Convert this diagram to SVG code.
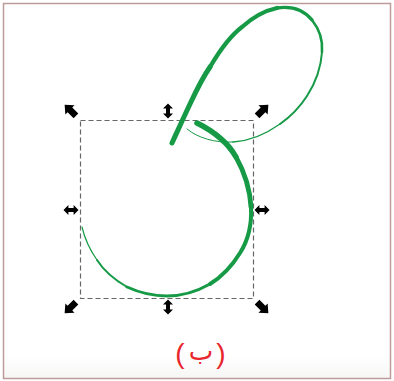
<svg xmlns="http://www.w3.org/2000/svg" width="394" height="381" viewBox="0 0 394 381">
<defs>
<style>
.g{fill:none;stroke:#169a46;stroke-linecap:round;stroke-linejoin:round}
.h{fill:#000}
.lbl{font-family:"Liberation Sans","DejaVu Sans",sans-serif;fill:#e8262c}
</style>
<polygon id="corner" points="0,-9 6.5,-1.5 3.3,-1.5 3.3,7 -3.3,7 -3.3,-1.5 -6.5,-1.5"/>
<polygon id="dbl" points="0,-7.5 5,-2.6 2,-2.6 2,2.6 5,2.6 0,7.5 -5,2.6 -2,2.6 -2,-2.6 -5,-2.6"/>
<linearGradient id="bg" x1="0" y1="0" x2="0" y2="1">
<stop offset="0" stop-color="#ffffff"/>
<stop offset="1" stop-color="#f6f6f5"/>
</linearGradient>
</defs>
<rect x="0" y="0" width="394" height="381" fill="#fff"/>
<rect x="3" y="355" width="388" height="24" fill="url(#bg)"/>
<rect x="3.5" y="3.5" width="387" height="375" fill="none" stroke="#bf9a9b" stroke-width="1.5"/>

<g id="selection-box">
<rect x="80.5" y="120.5" width="173" height="178" fill="none" stroke="#666" stroke-width="1.2" stroke-dasharray="5 3"/>
</g>

<g id="handles" class="h">
<use href="#corner" transform="translate(71,111) rotate(-45)"/>
<use href="#corner" transform="translate(262,111) rotate(45)"/>
<use href="#corner" transform="translate(262,307) rotate(135)"/>
<use href="#corner" transform="translate(71,307) rotate(-135)"/>
<use href="#dbl" transform="translate(168,111)"/>
<use href="#dbl" transform="translate(168,307)"/>
<use href="#dbl" transform="translate(71,210) rotate(90)"/>
<use href="#dbl" transform="translate(262,210) rotate(90)"/>
</g>

<g id="curve-loop">
<path class="g" stroke-width="5" d="M172,143 C178,130 182,121 190,104 C197,89 203,77 210,67"/>
<path class="g" stroke-width="4.3" d="M210,67 C220,50 230,36 242,27 C252,18 263,11 277,8"/>
<path class="g" stroke-width="3.4" d="M277,8 C290,6 303,9 312,20"/>
<path class="g" stroke-width="2.6" d="M312,20 C320,30 323,40 322,52"/>
<path class="g" stroke-width="2" d="M322,52 C321,68 316,82 307,96 C300,107 290,117 280,124"/>
<path class="g" stroke-width="1.4" d="M280,124 C266,134 250,141 233,142"/>
<path class="g" stroke-width="1" d="M233,142 C215,143 198,138 187,129"/>
</g>

<g id="curve-circle">
<path class="g" stroke-width="5.5" d="M197,123 C213,131 227,141 236,157"/>
<path class="g" stroke-width="4.8" d="M236,157 C245,173 250,190 251,207"/>
<path class="g" stroke-width="4" d="M251,207 C252,226 247,242 240,253 C232,266 223,276 210,284"/>
<path class="g" stroke-width="3" d="M210,284 C196,292 182,296 167,296 C152,296 138,292 127,287"/>
<path class="g" stroke-width="2" d="M127,287 C115,280 104,271 97,260"/>
<path class="g" stroke-width="1.2" d="M97,260 C90,250 85,240 82,227"/>
</g>

<g id="label">
<text class="lbl" x="180" y="363" font-size="28" text-anchor="middle">(</text>
<text class="lbl" x="201" y="360" font-size="26" text-anchor="middle">ب</text>
<text class="lbl" x="221" y="363" font-size="28" text-anchor="middle">)</text>
</g>
</svg>
